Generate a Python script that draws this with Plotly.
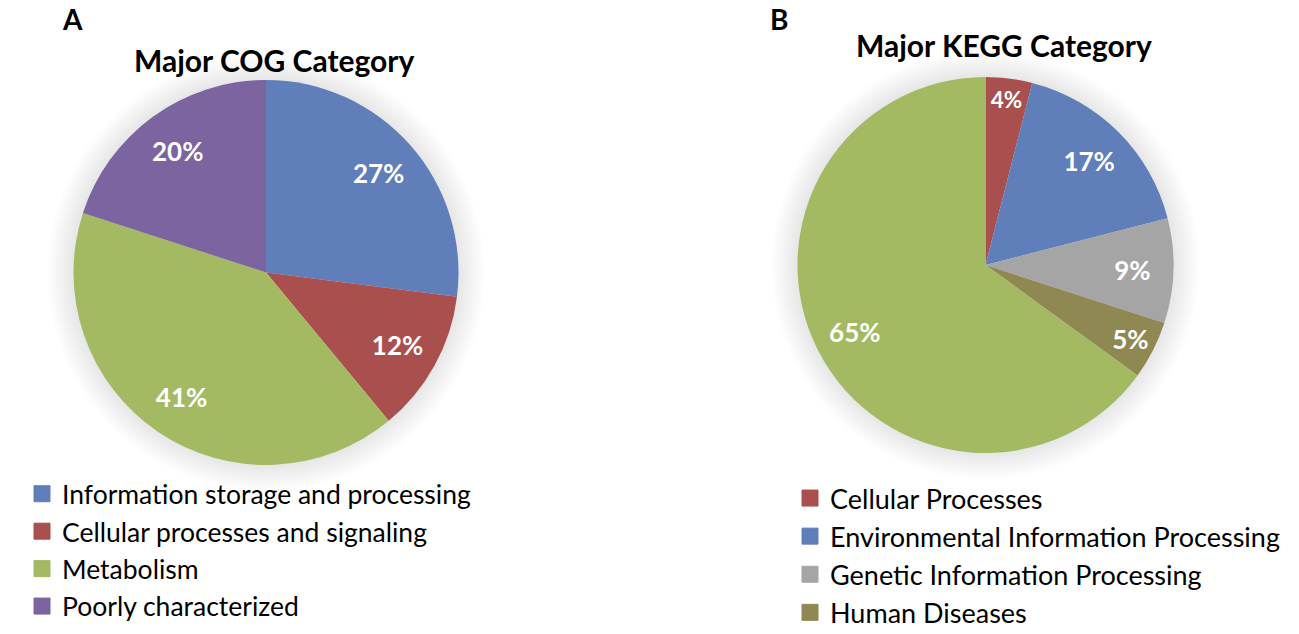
import plotly.graph_objects as go

# ---------------- data ----------------
cog_labels = ["Information storage and processing", "Cellular processes and signaling",
              "Metabolism", "Poorly characterized"]
cog_values = [27, 12, 41, 20]
cog_colors = ["#5F7EBA", "#A94F4D", "#A3BA62", "#7B64A0"]

kegg_labels = ["Cellular Processes", "Environmental Information Processing",
               "Genetic Information Processing", "Human Diseases", "Metabolism"]
kegg_values = [4, 17, 9, 5, 65]
kegg_colors = ["#A94F4D", "#5F7EBA", "#A5A5A5", "#8F8853", "#A3BA62"]
kegg_legend_shown = 4  # the reference legend shows only the first four entries

panel_letters = ["A", "B"]
panel_titles = ["Major COG Category", "Major KEGG Category"]

# ---------------- layout helpers ----------------
W, H = 1299, 634
FONT = "Lato"


def domain(cx, cy, r):
    """pixel centre (from top) + radius -> paper domain"""
    cyb = H - cy
    return dict(x=[(cx - r) / W, (cx + r) / W], y=[(cyb - r) / H, (cyb + r) / H])


pies = [
    dict(labels=cog_labels, values=cog_values, colors=cog_colors, c=(266, 272.5), r=192.5),
    dict(labels=kegg_labels, values=kegg_values, colors=kegg_colors, c=(985.5, 265), r=188),
]

fig = go.Figure()

# soft glow / shadow behind each pie (stacked translucent discs)
N_SH, SH_W = 12, 26
for p in pies:
    for k in range(N_SH, 0, -1):
        rr = p["r"] + SH_W * k / N_SH
        fig.add_trace(go.Pie(
            values=[sum(p["values"])], labels=["shadow"], domain=domain(*p["c"], rr),
            sort=False, marker=dict(colors=["rgba(0,0,0,0.008)"], line=dict(width=0)),
            textinfo="none", showlegend=False, hoverinfo="skip",
        ))

for p in pies:
    dom = domain(*p["c"], p["r"])
    # coloured pie
    fig.add_trace(go.Pie(
        labels=p["labels"], values=p["values"], domain=dom,
        sort=False, direction="clockwise", rotation=0,
        marker=dict(colors=p["colors"], line=dict(width=0)),
        textinfo="none", showlegend=False, hoverinfo="label+percent",
    ))
    # transparent ring on top carrying the percentage labels
    fig.add_trace(go.Pie(
        labels=p["labels"], values=p["values"], domain=dom,
        sort=False, direction="clockwise", rotation=0, hole=0.56,
        marker=dict(colors=["rgba(0,0,0,0)"] * len(p["values"]), line=dict(width=0)),
        textinfo="percent", textposition="inside", insidetextorientation="horizontal",
        textfont=dict(family=FONT, size=26, color="white", weight="bold"),
        showlegend=False, hoverinfo="skip",
    ))

# legend entries (square markers)
for lab, col in zip(cog_labels, cog_colors):
    fig.add_trace(go.Scatter(x=[None], y=[None], mode="markers", name=lab,
                             marker=dict(symbol="square", size=16, color=col,
                                         line=dict(width=1, color=col)),
                             legend="legend", showlegend=True))
for lab, col in zip(kegg_labels[:kegg_legend_shown], kegg_colors[:kegg_legend_shown]):
    fig.add_trace(go.Scatter(x=[None], y=[None], mode="markers", name=lab,
                             marker=dict(symbol="square", size=16, color=col,
                                         line=dict(width=1, color=col)),
                             legend="legend2", showlegend=True))

ann = []
letter_pos = [72, 779]
title_pos = [(273.5, 60), (1003.5, 45)]
for letter, lx in zip(panel_letters, letter_pos):
    ann.append(dict(text=letter, x=lx / W, y=1, xref="paper", yref="paper",
                    xanchor="center", yanchor="top", showarrow=False,
                    font=dict(family=FONT, size=28, color="black", weight="bold")))
for t, (tx, ty) in zip(panel_titles, title_pos):
    ann.append(dict(text=t, x=tx / W, y=1 - ty / H, xref="paper", yref="paper",
                    xanchor="center", yanchor="middle", showarrow=False,
                    font=dict(family=FONT, size=30, color="black", weight="bold")))

legend_common = dict(orientation="v", bgcolor="rgba(0,0,0,0)", borderwidth=0,
                     xanchor="left", yanchor="top", itemsizing="trace", traceorder="normal")

fig.update_layout(
    width=W, height=H,
    margin=dict(l=0, r=0, t=0, b=0, pad=0, autoexpand=False),
    paper_bgcolor="white", plot_bgcolor="white",
    xaxis=dict(visible=False), yaxis=dict(visible=False),
    annotations=ann,
    legend=dict(**legend_common, x=22 / W, y=1 - 470 / H,
                font=dict(family=FONT, size=26.5, color="black")),
    legend2=dict(**legend_common, x=790 / W, y=1 - 474 / H,
                 font=dict(family=FONT, size=27, color="black")),
)

fig.write_html("out.html", config={"displayModeBar": False},
               post_script="document.body.style.margin='0px';")
